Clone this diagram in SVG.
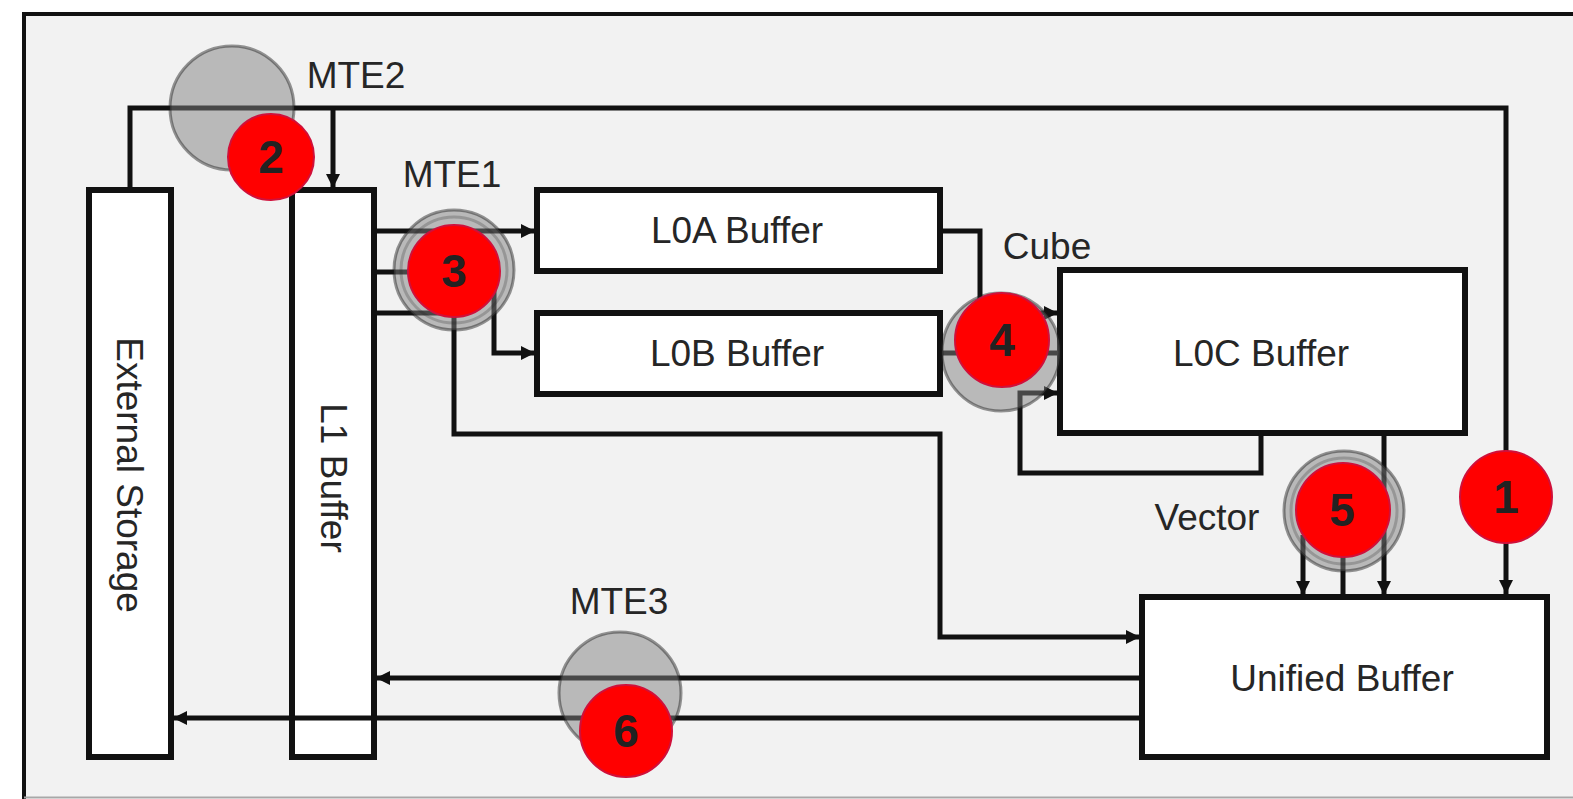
<svg xmlns="http://www.w3.org/2000/svg" width="1573" height="799" viewBox="0 0 1573 799">
<style>
.box{fill:#fff;stroke:#111;stroke-width:6}
.lbl{font-family:"Liberation Sans",Arial,sans-serif;font-size:37px;fill:#262626;text-anchor:middle}
.wire{fill:none;stroke:#111;stroke-width:5}
.halo{fill:#808080;fill-opacity:0.5;stroke:#1a1a1a;stroke-opacity:0.45;stroke-width:3}
.ring{fill:none;stroke:#1a1a1a;stroke-opacity:0.22;stroke-width:3}
.dot{fill:#ff0000;stroke:#d0103a;stroke-width:2}
.num{font-family:"Liberation Sans",Arial,sans-serif;font-size:46px;font-weight:bold;fill:#222;text-anchor:middle}
</style>
<defs>
<marker id="arr" markerUnits="userSpaceOnUse" markerWidth="14" markerHeight="14" refX="14" refY="7" orient="auto">
<path d="M0,0 L14,7 L0,14 z" fill="#111"/>
</marker>
</defs>
<rect x="0" y="0" width="1573" height="799" fill="#fff"/>
<rect x="24" y="14" width="1560" height="784" fill="#f2f2f2"/>
<line x1="22" y1="14" x2="1573" y2="14" stroke="#111" stroke-width="4"/>
<line x1="24" y1="12" x2="24" y2="799" stroke="#111" stroke-width="4"/>
<line x1="24" y1="797.5" x2="1573" y2="797.5" stroke="#a8a8a8" stroke-width="2"/>

<g id="external-storage">
<rect class="box" x="89" y="190" width="82" height="567"/>
<text class="lbl" transform="translate(117,475) rotate(90)">External Storage</text>
</g>
<g id="l1-buffer">
<rect class="box" x="292" y="190" width="82" height="567"/>
<text class="lbl" transform="translate(321,478) rotate(90)">L1 Buffer</text>
</g>
<g id="l0a-buffer">
<rect class="box" x="537" y="190" width="403" height="81"/>
<text class="lbl" x="737" y="243">L0A Buffer</text>
</g>
<g id="l0b-buffer">
<rect class="box" x="537" y="313" width="403" height="81"/>
<text class="lbl" x="737" y="366">L0B Buffer</text>
</g>
<g id="l0c-buffer">
<rect class="box" x="1060" y="270" width="405" height="163"/>
<text class="lbl" x="1261" y="366">L0C Buffer</text>
</g>
<g id="unified-buffer">
<rect class="box" x="1142" y="597" width="405" height="160"/>
<text class="lbl" x="1342" y="691">Unified Buffer</text>
</g>

<g id="connectors">
<path class="wire" d="M130,190 V108 H1506 V594" marker-end="url(#arr)"/>
<path class="wire" d="M333,108 V188" marker-end="url(#arr)"/>
<path class="wire" d="M374,231 H535" marker-end="url(#arr)"/>
<path class="wire" d="M374,272 H494 V353 H535" marker-end="url(#arr)"/>
<path class="wire" d="M374,313 H454 V434 H940 V637 H1140" marker-end="url(#arr)"/>
<path class="wire" d="M940,231 H980 V313 H1058" marker-end="url(#arr)"/>
<path class="wire" d="M940,353 H1060"/>
<path class="wire" d="M1261,433 V473 H1020 V393 H1058" marker-end="url(#arr)"/>
<path class="wire" d="M1384,433 V595" marker-end="url(#arr)"/>
<path class="wire" d="M1303,535 V595" marker-end="url(#arr)"/>
<path class="wire" d="M1343,535 V597"/>
<path class="wire" d="M1142,678 H376" marker-end="url(#arr)"/>
<path class="wire" d="M1142,718 H173" marker-end="url(#arr)"/>
</g>

<g id="mte2">
<circle class="halo" cx="232" cy="108" r="62"/>
<text class="lbl" x="356" y="88">MTE2</text>
</g>
<g id="mte1">
<circle class="halo" cx="454" cy="270" r="60"/>
<circle class="ring" cx="454" cy="270" r="53"/>
<text class="lbl" x="452" y="187">MTE1</text>
</g>
<g id="cube">
<circle class="halo" cx="1001" cy="352" r="59"/>
<text class="lbl" x="1047" y="259">Cube</text>
</g>
<g id="vector">
<circle class="halo" cx="1344" cy="511" r="60"/>
<circle class="ring" cx="1344" cy="511" r="53"/>
<text class="lbl" x="1207" y="530">Vector</text>
</g>
<g id="mte3">
<circle class="halo" cx="620" cy="693" r="61"/>
<text class="lbl" x="619" y="614">MTE3</text>
</g>

<g id="badge-1"><circle class="dot" cx="1506" cy="497" r="46"/><text class="num" x="1506" y="513">1</text></g>
<g id="badge-2"><circle class="dot" cx="271" cy="157" r="43"/><text class="num" x="271" y="173">2</text></g>
<g id="badge-3"><circle class="dot" cx="454" cy="271" r="46"/><text class="num" x="454" y="287">3</text></g>
<g id="badge-4"><circle class="dot" cx="1002" cy="340" r="47"/><text class="num" x="1002" y="356">4</text></g>
<g id="badge-5"><circle class="dot" cx="1343" cy="510" r="47"/><text class="num" x="1342" y="526">5</text></g>
<g id="badge-6"><circle class="dot" cx="626" cy="731" r="46"/><text class="num" x="626" y="747">6</text></g>
</svg>
